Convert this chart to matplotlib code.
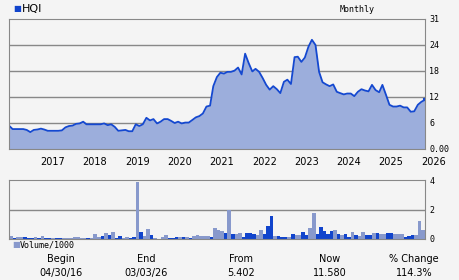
import numpy as np
import pandas as pd
import matplotlib
matplotlib.use('Agg')
import matplotlib.pyplot as plt
import matplotlib.dates as mdates
import matplotlib.transforms as mtrans

# monthly closes, Apr 2016 .. Feb 2026, plus last value on 03/03/26
price = [5.4, 4.6, 4.6, 4.6, 4.6, 4.4, 3.9, 4.4, 4.5, 4.7,
         4.5, 4.2, 4.2, 4.2, 4.2, 4.3, 5.0, 5.3, 5.4, 5.8,
         5.9, 6.3, 5.7, 5.7, 5.7, 5.7, 5.7, 5.9, 5.5, 5.7,
         5.1, 4.2, 4.3, 4.4, 4.1, 4.1, 5.7, 5.3, 5.7, 7.2,
         6.6, 6.9, 5.9, 6.3, 6.9, 6.9, 6.5, 6.0, 6.3, 5.9,
         6.1, 6.1, 6.7, 7.3, 7.6, 8.2, 9.8, 10.0, 14.5, 16.6,
         17.6, 17.4, 17.8, 17.8, 18.1, 18.8, 17.2, 22.0, 19.8, 17.9,
         18.5, 17.8, 16.4, 14.8, 13.7, 14.5, 13.8, 12.9, 15.5, 16.0,
         15.0, 21.2, 21.3, 20.1, 21.1, 23.6, 25.2, 24.0, 17.8, 15.4,
         14.9, 14.5, 14.9, 13.2, 12.9, 12.6, 12.8, 12.8, 12.2, 13.2,
         13.8, 13.5, 13.3, 14.8, 13.6, 13.1, 14.8, 12.5, 10.2, 9.8,
         9.8, 10.0, 9.6, 9.6, 8.6, 8.7, 10.2, 10.9, 11.3, 11.58]

# monthly volume / 1000 and bar shade (1 = dark, 0 = light)
volume = [0.18, 0.07, 0.14, 0.14, 0.14, 0.08, 0.10, 0.14, 0.08, 0.20,
          0.08, 0.08, 0.06, 0.08, 0.08, 0.08, 0.10, 0.10, 0.14, 0.14,
          0.08, 0.08, 0.08, 0.08, 0.34, 0.14, 0.20, 0.41, 0.29, 0.47,
          0.07, 0.20, 0.07, 0.14, 0.08, 0.14, 3.86, 0.47, 0.18, 0.68,
          0.27, 0.07, 0.03, 0.14, 0.27, 0.07, 0.07, 0.14, 0.14, 0.14,
          0.14, 0.07, 0.20, 0.27, 0.20, 0.20, 0.20, 0.14, 0.75, 0.61,
          0.54, 0.41, 1.97, 0.34, 0.34, 0.41, 0.14, 0.41, 0.41, 0.34,
          0.27, 0.61, 0.34, 0.88, 1.56, 0.20, 0.20, 0.14, 0.14, 0.14,
          0.34, 0.27, 0.27, 0.47, 0.27, 0.75, 1.76, 0.34, 0.81, 0.54,
          0.34, 0.54, 0.61, 0.34, 0.27, 0.34, 0.14, 0.47, 0.27, 0.20,
          0.47, 0.27, 0.27, 0.41, 0.41, 0.34, 0.34, 0.41, 0.41, 0.34,
          0.34, 0.34, 0.14, 0.20, 0.27, 0.27, 1.22, 0.63, 0.50]
dark = [0, 1, 0, 0, 1, 1, 1, 0, 1, 0,
        1, 1, 0, 1, 1, 0, 0, 0, 0, 0,
        0, 0, 1, 0, 0, 0, 1, 0, 1, 0,
        1, 1, 0, 0, 1, 1, 0, 1, 0, 0,
        1, 0, 1, 0, 0, 1, 1, 1, 0, 1,
        0, 1, 0, 0, 0, 0, 0, 1, 0, 0,
        0, 1, 0, 1, 0, 0, 1, 1, 1, 1,
        0, 0, 1, 1, 1, 0, 1, 1, 1, 0,
        1, 0, 0, 1, 1, 0, 0, 1, 1, 1,
        1, 1, 0, 1, 0, 1, 1, 0, 1, 0,
        0, 1, 1, 0, 1, 0, 0, 1, 1, 0,
        0, 0, 1, 1, 1, 0, 0, 0, 0]

years = list(range(2017, 2027))
stat_heads = ['Begin', 'End', 'From', 'Now', '% Change']
stat_vals = ['04/30/16', '03/03/26', '5.402', '11.580', '114.3%']

dates = list(pd.date_range('2016-04-30', periods=119, freq='ME')) + [pd.Timestamp('2026-03-03')]
d = mdates.date2num(dates)

bg = '#f4f4f4'
grey = '#888888'
line_c = '#1448d0'
fill_c = '#9caedc'
dark_c = '#1144cc'
light_c = '#8899cc'

fig = plt.figure(figsize=(4.6, 2.8), dpi=100, facecolor=bg)
ax = fig.add_axes([9/460, 1-149/280, 416/460, 130/280], facecolor=bg)
axv = fig.add_axes([9/460, 1-239/280, 416/460, 59/280], facecolor=bg)

# price panel
ax.fill_between(d, price, 0, color=fill_c, lw=0)
ax.plot(d, price, color=line_c, lw=1.3)
ax.plot([d[-1] - 6, d[-1]], [price[-1], price[-1]], color=line_c, lw=1.5)
ax.set_xlim(d[0], d[-1])
ax.set_ylim(0, 30)
for v in [6, 12, 18, 24]:
    ax.axhline(v, color=grey, lw=1, zorder=0)
ax.yaxis.tick_right()
ax.set_yticks([0, 6, 12, 18, 24, 30])
ax.set_yticklabels(['0.00', '6', '12', '18', '24', '31'], family='DejaVu Sans Mono', fontsize=6)
ax.tick_params(axis='y', length=0, pad=3)
ax.set_xticks(mdates.date2num([pd.Timestamp(f'{y}-01-01') for y in years]))
ax.set_xticklabels([str(y) for y in years], fontsize=7)
ax.tick_params(axis='x', length=0, pad=6)
off = mtrans.ScaledTranslation(3/100, 0, fig.dpi_scale_trans)
for lab in ax.get_xticklabels():
    lab.set_horizontalalignment('left')
    lab.set_transform(lab.get_transform() + off)
for s in ax.spines.values():
    s.set_color(grey)

# volume panel
widths = np.diff(d)
axv.bar(d[:-1], volume, width=widths, align='edge',
        color=[dark_c if k else light_c for k in dark], lw=0)
axv.set_xlim(d[0], d[-1])
axv.set_ylim(0, 4)
axv.axhline(2, color=grey, lw=1, zorder=0)
axv.yaxis.tick_right()
axv.set_yticks([0, 2, 4])
axv.set_yticklabels(['0', '2', '4'], family='DejaVu Sans Mono', fontsize=6)
axv.tick_params(axis='y', length=0, pad=3)
axv.set_xticks([])
for s in axv.spines.values():
    s.set_color(grey)

# header and legend
fig.text(13/460, 1-9/280, '\u25a0', color=dark_c, fontsize=6, va='center')
fig.text(22/460, 1-9/280, 'HQI', fontsize=8, va='center')
fig.text(340/460, 1-9/280, 'Monthly', family='DejaVu Sans Mono', fontsize=6, va='center')
fig.text(12/460, 1-245/280, '\u25a0', color=light_c, fontsize=6, va='center')
fig.text(20/460, 1-245/280, 'Volume/1000', family='DejaVu Sans Mono', fontsize=6, va='center')

# stats
for x, h, v in zip([61, 146, 241, 330, 414], stat_heads, stat_vals):
    fig.text(x/460, 1-259/280, h, fontsize=7, ha='center', va='center')
    fig.text(x/460, 1-273/280, v, fontsize=7, ha='center', va='center')

plt.savefig('out.png', dpi=100, facecolor=bg)
